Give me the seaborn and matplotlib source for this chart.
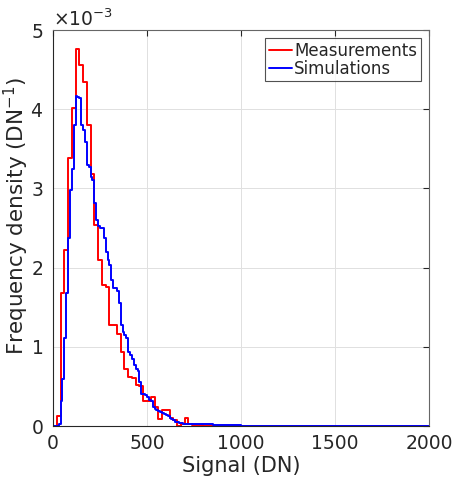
import numpy as np
import pandas as pd
import matplotlib
matplotlib.use("Agg")
import matplotlib.pyplot as plt
import seaborn as sns
from matplotlib.ticker import ScalarFormatter

# ---- data (frequency density, units of 1e-3 per DN) ----
# Measurements: 20-DN bins from 0 to 740, then coarser tail bins
meas_edges = list(range(0, 760, 20)) + [800, 1000, 2000]
meas_vals = [0.00, 0.12, 1.68, 2.22, 3.38, 4.02, 4.76, 4.56, 4.34, 3.80,
             3.18, 2.54, 2.10, 1.78, 1.75, 1.27, 1.27, 1.16, 0.94, 0.72,
             0.62, 0.61, 0.52, 0.50, 0.31, 0.31, 0.37, 0.24, 0.09, 0.20,
             0.20, 0.10, 0.08, 0.00, 0.02, 0.10, 0.02,
             0.01, 0.005, 0.001]

# Simulations: 10-DN bins from 0 to 700, then coarser tail bins
sim_edges = list(range(0, 710, 10)) + [750, 800, 850, 900, 1000, 1500, 2000]
sim_vals = [0.00, 0.00, 0.00, 0.02, 0.31, 0.59, 1.11, 1.68, 2.37, 2.98,
            3.25, 3.80, 4.17, 4.15, 4.14, 3.80, 3.74, 3.59, 3.30, 3.27,
            3.15, 3.10, 2.81, 2.60, 2.52, 2.50, 2.50, 2.37, 2.20, 2.10,
            2.03, 1.84, 1.74, 1.74, 1.70, 1.55, 1.28, 1.19, 1.15, 1.11,
            0.94, 0.90, 0.85, 0.77, 0.72, 0.69, 0.56, 0.41, 0.40, 0.39,
            0.37, 0.33, 0.31, 0.24, 0.22, 0.20, 0.19, 0.18, 0.16, 0.15,
            0.14, 0.12, 0.10, 0.09, 0.07, 0.05, 0.05, 0.04, 0.04, 0.03,
            0.03, 0.02, 0.02, 0.015, 0.01, 0.006, 0.005]

x_ticks = [0, 500, 1000, 1500, 2000]
y_ticks = [0, 1e-3, 2e-3, 3e-3, 4e-3, 5e-3]

sns.set_style("white")
plt.rcParams['font.family'] = ['DejaVu Sans']
plt.rcParams['mathtext.fontset'] = 'dejavusans'

def centers(edges):
    e = np.asarray(edges, float)
    return (e[:-1] + e[1:]) / 2

meas_df = pd.DataFrame({"signal": centers(meas_edges),
                        "density": np.asarray(meas_vals) * 1e-3})
sim_df = pd.DataFrame({"signal": centers(sim_edges),
                       "density": np.asarray(sim_vals) * 1e-3})

fig = plt.figure(figsize=(4.61, 4.83), dpi=100)
ax = fig.add_axes([53 / 461, (483 - 426) / 483, (429 - 53) / 461, (426 - 30) / 483])

sns.histplot(data=meas_df, x="signal", weights="density", bins=meas_edges,
             element="step", fill=False, color=(1, 0, 0), linewidth=1.4,
             ax=ax, label="Measurements")
sns.histplot(data=sim_df, x="signal", weights="density", bins=sim_edges,
             element="step", fill=False, color=(0, 0, 1), linewidth=1.4,
             ax=ax, label="Simulations")

ax.set_xlim(0, 2000)
ax.set_ylim(0, 5e-3)
ax.set_xticks(x_ticks)
ax.set_yticks(y_ticks)
fmt = ScalarFormatter(useMathText=True)
fmt.set_powerlimits((-2, 2))
ax.yaxis.set_major_formatter(fmt)
ax.yaxis.get_offset_text().set_fontsize(13.5)
ax.yaxis.get_offset_text().set_color('#262626')

ax.grid(True, color='#e0e0e0', linewidth=0.7)
ax.set_axisbelow(True)
for name, s in ax.spines.items():
    s.set_visible(True)
    s.set_linewidth(0.8)
    s.set_color('#262626' if name in ('left', 'bottom') else '#666666')
ax.tick_params(axis='both', direction='in', length=4, width=0.8,
               labelsize=13.5, colors='#262626', top=True, right=True,
               labeltop=False, labelright=False)
ax.tick_params(axis='x', pad=6)
ax.tick_params(axis='y', pad=7)

ax.set_xlabel("Signal (DN)", fontsize=15, color='#262626')
ax.xaxis.set_label_coords(0.5, -0.077)
ax.set_ylabel(r"Frequency density (DN$^{\mathdefault{-1}}$)", fontsize=15.5,
              color='#262626')
ax.yaxis.set_label_coords(-0.058, 0.53)

leg = ax.legend(loc='upper right', fontsize=12, frameon=True, fancybox=False,
                edgecolor='#262626', handlelength=1.4, handletextpad=0.15,
                borderpad=0.2, labelspacing=0.0, borderaxespad=0.5)
leg.get_frame().set_linewidth(0.8)
for h in leg.get_lines():
    h.set_linewidth(1.4)

fig.savefig("out.png", dpi=100)
